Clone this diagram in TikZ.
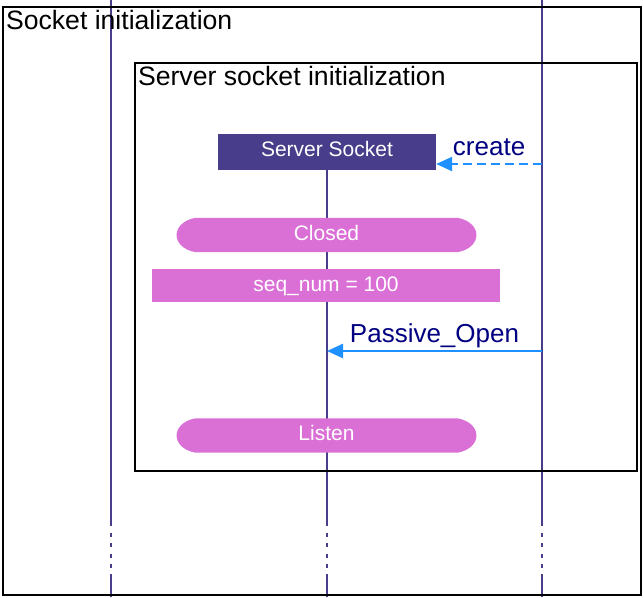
\documentclass[tikz,border=0pt]{standalone}
\usepackage{fontspec}
\setmainfont{Liberation Sans}
\usetikzlibrary{backgrounds,arrows.meta}
\definecolor{lifec}{RGB}{72,61,139}
\definecolor{orch}{RGB}{218,112,214}
\definecolor{msgc}{RGB}{30,144,255}
\definecolor{lblc}{RGB}{0,0,128}
\begin{document}
\begin{tikzpicture}[x=1pt,y=-1pt,
  frame/.style={draw=black, line width=2.2pt, inner sep=0pt},
  frametitle/.style={anchor=base west, inner sep=0pt, font=\fontsize{26.6}{29}\selectfont},
  life/.style={draw=lifec, line width=2pt},
  lifedash/.style={draw=lifec, line width=2pt, dash pattern=on 4pt off 6.5pt},
  objbox/.style={fill=lifec, text=white, minimum width=218pt, minimum height=36pt, inner sep=0pt, text height=15pt, text depth=6pt, font=\fontsize{21}{24}\selectfont},
  pill/.style={text=white, minimum width=262pt, minimum height=34pt, inner sep=0pt, text height=15pt, text depth=5pt, font=\fontsize{21}{24}\selectfont},
  actbox/.style={fill=orch, text=white, minimum width=348pt, minimum height=33pt, inner sep=0pt, text height=15pt, text depth=4pt, font=\fontsize{21}{24}\selectfont},
  msg/.style={draw=msgc, line width=2.4pt, -{Triangle[length=16pt,width=14pt]}},
  msglbl/.style={anchor=base, inner sep=0pt, text=lblc, font=\fontsize{26}{28}\selectfont, yshift=9pt}
]
\useasboundingbox (0,0) rectangle (644,597);

% frames
\node[frame, minimum width=638pt, minimum height=588pt] (outer) at (322,301) {};
\node[frame, minimum width=502pt, minimum height=408pt] (inner) at (386,267) {};
\node[frametitle] (t1) at ([shift={(4,24)}]outer.north west) {Socket initialization};
\node[frametitle] (t2) at ([shift={(4,23.5)}]inner.north west) {Server socket initialization};

% object and states
\node[objbox] (ss) at (327,152) {Server Socket};
\node[pill] (closed) at (326.5,235) {Closed};
\node[actbox] (seq) at (326,285.5) {seq\_num = 100};
\node[pill] (listen) at (326.5,435.5) {Listen};

% lifeline coordinates
\coordinate (l1t) at (111,0);   \coordinate (l1a) at (111,522); \coordinate (l1b) at (111,574); \coordinate (l1e) at (111,597);
\coordinate (l3t) at (542,0);   \coordinate (l3a) at (542,522); \coordinate (l3b) at (542,574); \coordinate (l3e) at (542,597);
\coordinate (l2a) at (327,522); \coordinate (l2b) at (327,574); \coordinate (l2e) at (327,597);
\coordinate (cr) at (542,164);
\coordinate (po) at (542,351);

\begin{scope}[on background layer]
  \draw[life] (l1t) -- (l1a); \draw[lifedash] (l1a) -- (l1b); \draw[life] (l1b) -- (l1e);
  \draw[life] (l3t) -- (l3a); \draw[lifedash] (l3a) -- (l3b); \draw[life] (l3b) -- (l3e);
  \draw[life] (ss.south) -- (l2a); \draw[lifedash] (l2a) -- (l2b); \draw[life] (l2b) -- (l2e);
  \foreach \n in {closed,listen}{
    \fill[orch] (\n.north west) .. controls +(-25,5) and +(-25,-5) .. (\n.south west)
      -- (\n.south east) .. controls +(25,-5) and +(25,5) .. (\n.north east) -- cycle;
  }
\end{scope}

% messages
\draw[msg, dashed, dash pattern=on 9pt off 5pt] (cr) -- node[msglbl, midway] {create} (cr -| ss.east);
\draw[msg] (po) -- node[msglbl, midway] {Passive\_Open} (po -| ss.south);
\end{tikzpicture}
\end{document}
